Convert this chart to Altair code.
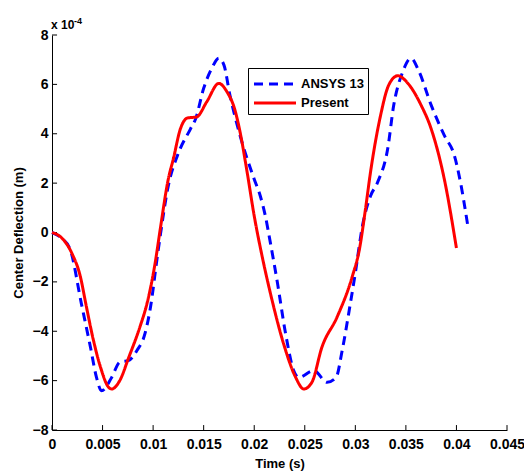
import altair as alt
import pandas as pd

# Time (s) and centre deflection (in units of 1e-4 m)
t_present = [0, 0.00096, 0.00195, 0.0028, 0.0034, 0.0041, 0.0048, 0.0056, 0.0059, 0.0067,
             0.0076, 0.0087, 0.0094, 0.0102, 0.0107, 0.0115, 0.0120, 0.0127, 0.0134, 0.0143,
             0.0153, 0.0165, 0.0173, 0.0181, 0.0186, 0.0193, 0.0200, 0.0208, 0.0216, 0.0229,
             0.0241, 0.0249, 0.0257, 0.0267, 0.0282, 0.0297, 0.0304, 0.0310, 0.0315, 0.0325,
             0.0333, 0.0342, 0.0352, 0.0365, 0.0375, 0.0388, 0.0400]
y_present = [0, -0.22, -0.83, -1.78, -3.0, -4.37, -5.46, -6.27, -6.34, -6.0,
             -5.05, -3.82, -2.87, -1.24, 0.12, 2.16, 2.98, 4.2, 4.64, 4.68,
             5.29, 6.04, 5.7, 4.95, 4.07, 2.44, 0.67, -1.0, -2.46, -4.5,
             -5.87, -6.34, -6.07, -4.64, -3.42, -1.78, -0.69, 0.94, 2.44, 4.75,
             5.97, 6.35, 6.04, 5.16, 4.2, 2.16, -0.63]

t_ansys = [0, 0.0010, 0.0018, 0.0029, 0.0038, 0.0044, 0.0049, 0.0059, 0.0067, 0.0076,
           0.0084, 0.0092, 0.0099, 0.0102, 0.0107, 0.0115, 0.0124, 0.0137, 0.0142, 0.0150,
           0.0158, 0.0165, 0.0170, 0.0176, 0.0186, 0.0200, 0.0206, 0.0211, 0.0216, 0.0223,
           0.0231, 0.0239, 0.0244, 0.0259, 0.0272, 0.0281, 0.0287, 0.0294, 0.0300, 0.0307,
           0.0315, 0.0322, 0.0332, 0.0338, 0.0347, 0.0355, 0.0363, 0.0375, 0.0388, 0.0398,
           0.0404, 0.0411]
y_ansys = [0, -0.25, -0.69, -2.87, -4.64, -5.87, -6.41, -5.87, -5.25, -5.18,
           -4.78, -4.09, -2.6, -1.64, -0.15, 1.89, 3.11, 4.2, 4.6, 5.84,
           6.65, 7.06, 6.79, 5.56, 3.93, 2.16, 1.48, 0.67, -0.42, -2.05,
           -4.09, -5.59, -5.87, -5.59, -6.07, -5.87, -4.78, -3.14, -1.64, 0.26,
           1.48, 2.03, 3.39, 5.16, 6.52, 7.06, 6.52, 5.16, 3.93, 3.11,
           2.03, 0.33]

series_names = ["ANSYS 13", "Present"]
series_colors = ["#0000FF", "#FF0000"]
series_dash = [[9, 6], [1, 0]]

x_ticks = [0, 0.005, 0.01, 0.015, 0.02, 0.025, 0.03, 0.035, 0.04, 0.045]
y_ticks = [-8, -6, -4, -2, 0, 2, 4, 6, 8]

FONT = "Liberation Sans"

df = pd.concat([
    pd.DataFrame({"t": t_ansys, "y": y_ansys, "series": series_names[0], "order": range(len(t_ansys))}),
    pd.DataFrame({"t": t_present, "y": y_present, "series": series_names[1], "order": range(len(t_present))}),
])

xscale = alt.Scale(domain=[0, 0.045], nice=False, zero=False)
yscale = alt.Scale(domain=[-8, 8], nice=False, zero=False)

lines = alt.Chart(df).mark_line(strokeWidth=3, interpolate="monotone").encode(
    x=alt.X("t:Q", scale=xscale,
            axis=alt.Axis(title="Time (s)", values=x_ticks, format="~g", tickSize=0,
                          labelPadding=7, labelFlush=False, titlePadding=6, grid=False)),
    y=alt.Y("y:Q", scale=yscale,
            axis=alt.Axis(title="Center Deflection (m)", values=y_ticks, format="d", tickSize=0,
                          labelPadding=4, titlePadding=7, grid=False)),
    color=alt.Color("series:N", scale=alt.Scale(domain=series_names, range=series_colors),
                    legend=alt.Legend(title=None, orient="none", legendX=196, legendY=33,
                                      strokeColor="black", fillColor="white", padding=4,
                                      symbolType="M-2,0H2", symbolSize=441, symbolStrokeWidth=3,
                                      symbolOffset=11, labelOffset=14,
                                      labelFont=FONT, labelFontSize=13, labelFontWeight="bold",
                                      labelColor="black", rowPadding=-1)),
    strokeDash=alt.StrokeDash("series:N", scale=alt.Scale(domain=series_names, range=series_dash),
                              legend=None),
    detail="series:N",
    order="order:Q",
)

xt = pd.DataFrame({"t": x_ticks, "y0": -8.0, "y1": -7.8})
yt = pd.DataFrame({"y": y_ticks, "x0": 0.0, "x1": 0.0005})

xtick_marks = alt.Chart(xt).mark_rule(color="black", strokeWidth=1).encode(
    x=alt.X("t:Q", scale=xscale), y=alt.Y("y0:Q", scale=yscale), y2="y1:Q")
ytick_marks = alt.Chart(yt).mark_rule(color="black", strokeWidth=1).encode(
    y=alt.Y("y:Q", scale=yscale), x=alt.X("x0:Q", scale=xscale), x2="x1:Q")

exp_base = alt.Chart(pd.DataFrame({"s": ["x 10"]})).mark_text(
    align="left", baseline="middle", font=FONT, fontSize=12, fontWeight="bold", color="black"
).encode(text="s:N", x=alt.value(-1), y=alt.value(-10))
exp_sup = alt.Chart(pd.DataFrame({"s": ["-4"]})).mark_text(
    align="left", baseline="middle", font=FONT, fontSize=9, fontWeight="bold", color="black"
).encode(text="s:N", x=alt.value(22), y=alt.value(-14))

chart = alt.layer(xtick_marks, ytick_marks, lines, exp_base, exp_sup).properties(
    width=455, height=395,
    autosize=alt.AutoSizeParams(type="none"),
    padding={"left": 52, "top": 35, "right": 17, "bottom": 41},
    background="white",
).configure_view(stroke=None).configure_axis(
    domainColor="black", domainWidth=1,
    labelFont=FONT, labelFontSize=14, labelFontWeight="bold", labelColor="black",
    titleFont=FONT, titleFontSize=13, titleFontWeight="bold", titleColor="black",
)

chart.save("out.html", embed_options={"renderer": "svg", "actions": False})
